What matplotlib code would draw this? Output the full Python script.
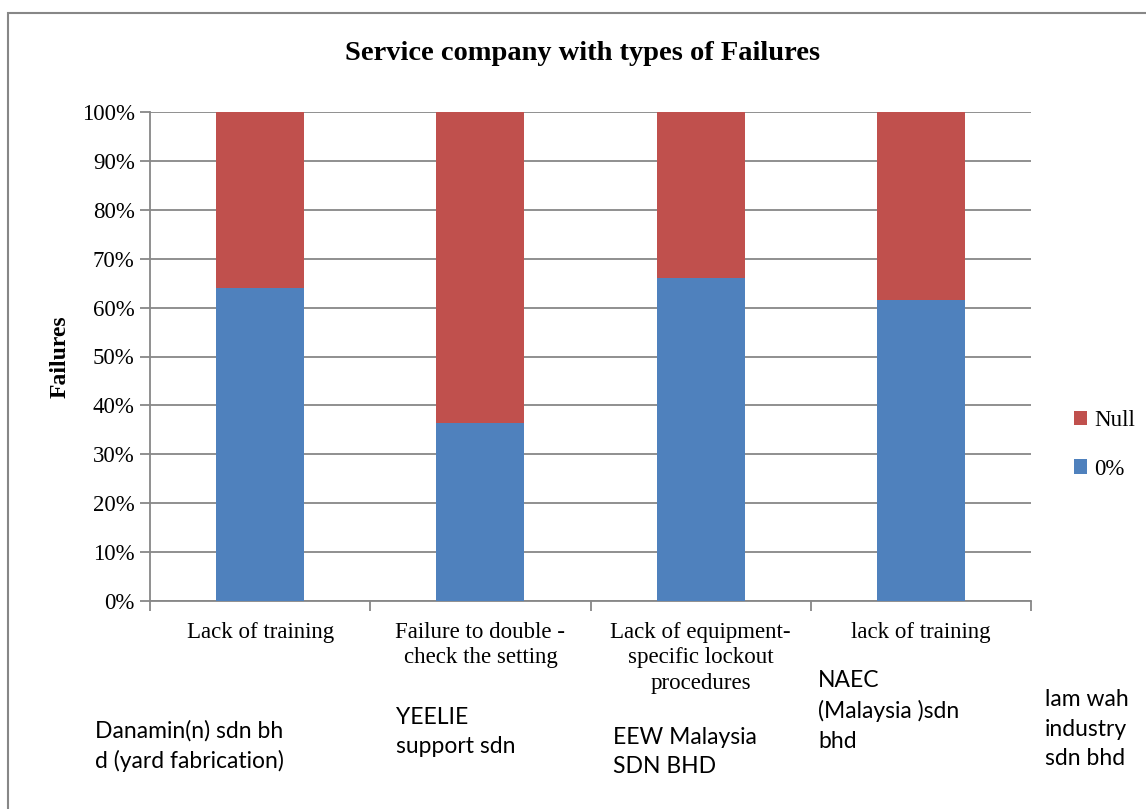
import matplotlib.pyplot as plt
from matplotlib.patches import Rectangle

failures = ['Lack of training', 'Failure to double -\ncheck the setting',
            'Lack of equipment-\nspecific lockout\nprocedures', 'lack of training']
zero_pct = [64.1, 36.3, 66.1, 61.6]
null_pct = [100 - v for v in zero_pct]

companies = ['Danamin(n) sdn bh\nd (yard fabrication)', 'YEELIE\nsupport sdn',
             'EEW Malaysia\nSDN BHD', 'NAEC\n(Malaysia )sdn\nbhd', 'lam wah\nindustry\nsdn bhd']
comp_xy = [(95, 746), (396, 732), (613, 752), (818, 711), (1045, 729)]

W, H = 1146, 809
fig = plt.figure(figsize=(W / 100, H / 100), dpi=100)
serif = ['Liberation Serif', 'DejaVu Serif']
sans = ['Lato', 'Liberation Sans', 'DejaVu Sans']

# chart area border
fig.patches.append(Rectangle((7.5 / W, -0.01), 1.2, 1 - 13 / H + 0.01, transform=fig.transFigure,
                             fill=False, edgecolor='#878787', lw=1.5))

ax = fig.add_axes([150 / W, 1 - 601 / H, 881 / W, 489 / H])
x = range(len(failures))
ax.bar(x, zero_pct, width=0.4, color='#4f81bd', label='0%', zorder=3)
ax.bar(x, null_pct, width=0.4, bottom=zero_pct, color='#c0504d', label='Null', zorder=3)

ax.set_xlim(-0.5, 3.5)
ax.set_ylim(0, 100)
ax.set_yticks(range(0, 101, 10))
ax.set_yticklabels([f'{v}%' for v in range(0, 101, 10)], fontfamily=serif, fontsize=16.5)
ax.yaxis.grid(True, color='#878787', lw=1.3, zorder=0)
ax.set_xticks([-0.5, 0.5, 1.5, 2.5, 3.5])
ax.set_xticklabels([])
ax.set_xticks(list(x), minor=True)
ax.set_xticklabels(failures, minor=True, fontfamily=serif, fontsize=16.5, va='top',
                   linespacing=1.28)
ax.tick_params(axis='x', which='minor', length=0, pad=15)
ax.tick_params(axis='x', which='major', length=7, color='#878787', width=1.3)
ax.tick_params(axis='y', length=7, color='#878787', width=1.3, pad=4)
for s in ['top', 'right']:
    ax.spines[s].set_visible(False)
for s in ['left', 'bottom']:
    ax.spines[s].set_color('#878787')
    ax.spines[s].set_linewidth(1.3)

ax.set_ylabel('Failures', fontfamily=serif, fontsize=17, fontweight='bold', labelpad=8)
fig.text(583 / W, 1 - 54 / H, 'Service company with types of Failures', fontfamily=serif,
         fontsize=20.5, fontweight='bold', ha='center', va='center')

h, l = ax.get_legend_handles_labels()
fig.legend(h[::-1], l[::-1], loc='center left', bbox_to_anchor=(1053 / W, 1 - 445 / H),
           frameon=False, prop={'family': serif, 'size': 16.5}, handlelength=0.6,
           handleheight=0.6, handletextpad=0.3, labelspacing=1.2)

for txt, (cx, cy) in zip(companies, comp_xy):
    fig.text(cx / W, 1 - cy / H, txt, fontfamily=sans, fontsize=16.5, ha='left', va='center',
             linespacing=1.5)

fig.savefig('out.png', dpi=100)
